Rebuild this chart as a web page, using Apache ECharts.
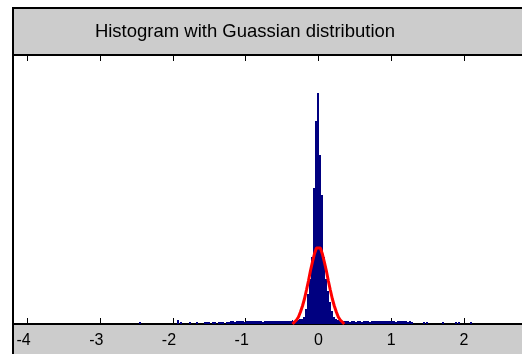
<!DOCTYPE html>
<html>
<head>
<meta charset="utf-8">
<script src="https://cdn.jsdelivr.net/npm/echarts@6/dist/echarts.min.js"></script>
<style>html,body{margin:0;padding:0;background:#fff;}#c{width:522px;height:354px;}</style>
</head>
<body>
<div id="c"></div>
<script>
// ---- data ----
const titleText = 'Histogram with Guassian distribution';
const tickValues = [-4, -3, -2, -1, 0, 1, 2];
const binWidth = 0.0274;
// central bins, bin index -8..8 (center = index * binWidth)
const peakStart = -8;
const peakCounts = [25, 35, 75, 150, 225, 335, 680, 1015, 1155, 845, 645, 335, 225, 165, 110, 65, 35];
// left tail, bin index -57..-9
const leftStart = -57;
const leftCounts = [10,10,10,0,10,10,0,10,10,10,0,10,10,
  15,15,10,15,15,15,15,10,15,15,15,15,
  15,15,15,15,10,15,15,15,15,15,15,15,15,15,15,
  15,15,15,15,20,15,20,20,25];
// right tail, bin index 9..47
const rightStart = 9;
const rightCounts = [25,20,15,15,15,15,
  15,10,15,15,10,15,15,10,15,15,15,10,15,15,15,15,15,15,15,15,15,15,15,15,10,15,15,15,15,15,10,15,10];
// isolated outlier bins [center, count]
const outlierX = [-2.45, -1.93, -1.89, -1.77, -1.67, 1.45, 1.49, 1.71, 1.89, 1.93, 2.10];
const outlierY = [10, 20, 10, 10, 10, 10, 10, 10, 10, 10, 10];
// fitted gaussian curve
const curveX = [-0.356,-0.329,-0.301,-0.274,-0.247,-0.219,-0.192,-0.164,-0.137,-0.110,-0.082,-0.055,-0.027,0,
  0.027,0.055,0.082,0.110,0.137,0.164,0.192,0.219,0.247,0.274,0.301,0.329,0.356];
const curveY = [0,10,20,35,60,90,125,170,215,265,310,350,380,390,
  380,350,310,265,215,170,125,90,60,35,20,10,0];

// ---- build series data: one outline polygon per contiguous run of bins ----
function runToBins(start, counts) {
  return counts.map((c, i) => [(start + i) * binWidth, c]);
}
const runs = [
  runToBins(leftStart, leftCounts),
  runToBins(peakStart, peakCounts),
  runToBins(rightStart, rightCounts)
];
const singles = outlierX.map((x, i) => [x, outlierY[i]]);
const curve = curveX.map((x, i) => [x, curveY[i]]);

const chart = echarts.init(document.getElementById('c'), null, {renderer: 'canvas'});
const gray = '#cccccc';
const blue = '#000080';

function histPolygon(api, binsList) {
  const pts = [];
  binsList.forEach(b => {
    const a = api.coord([b[0] - binWidth / 2, b[1]]);
    const z = api.coord([b[0] + binWidth / 2, b[1]]);
    pts.push([Math.round(a[0]), Math.round(a[1])], [Math.round(z[0]), Math.round(z[1])]);
  });
  const last = binsList[binsList.length - 1], first = binsList[0];
  const e = api.coord([last[0] + binWidth / 2, 0]);
  const s = api.coord([first[0] - binWidth / 2, 0]);
  pts.push([Math.round(e[0]), Math.round(e[1])], [Math.round(s[0]), Math.round(s[1])]);
  return {type: 'polygon', shape: {points: pts}, style: {fill: blue}};
}

chart.setOption({
  backgroundColor: '#ffffff',
  animation: false,
  grid: {left: 13, top: 55, width: 511, height: 269, containLabel: false},
  xAxis: [{
    type: 'value', min: -4.2, max: 2.8, position: 'bottom',
    axisLine: {show: true, onZero: false, lineStyle: {color: '#000', width: 2}},
    axisTick: {show: true, inside: true, length: 6, customValues: tickValues, lineStyle: {color: '#000', width: 1}},
    axisLabel: {
      show: true, customValues: tickValues, margin: 9, color: '#000', fontSize: 16,
      fontFamily: 'Liberation Sans, Arial, sans-serif',
      formatter: v => v < 0 ? (v + '{p| }') : String(v),
      rich: {p: {width: 8, fontSize: 16}}
    },
    splitLine: {show: false}
  }, {
    type: 'value', min: -4.2, max: 2.8, position: 'top',
    axisLine: {show: true, onZero: false, lineStyle: {color: '#000', width: 2}},
    axisTick: {show: true, inside: true, length: 6, customValues: tickValues, lineStyle: {color: '#000', width: 1}},
    axisLabel: {show: false},
    splitLine: {show: false}
  }],
  yAxis: {type: 'value', min: 0, max: 1345, show: false, splitLine: {show: false}},
  graphic: [
    {type: 'rect', z: -10, shape: {x: 13, y: 9, width: 509, height: 45}, style: {fill: gray}},
    {type: 'rect', z: -10, shape: {x: 13, y: 325, width: 509, height: 29}, style: {fill: gray}},
    {type: 'rect', z: 100, shape: {x: 12, y: 7, width: 510, height: 2}, style: {fill: '#000'}},
    {type: 'rect', z: 100, shape: {x: 12, y: 7, width: 2, height: 347}, style: {fill: '#000'}},
    {type: 'text', z: 100, x: 245, y: 32, style: {text: titleText, fill: '#000', font: '18.5px "Liberation Sans", Arial, sans-serif', align: 'center', verticalAlign: 'middle'}}
  ],
  series: [{
    // contiguous runs drawn as step outlines
    type: 'custom',
    xAxisIndex: 0,
    data: runs.map((r, i) => [i]),
    clip: true,
    renderItem: function (params, api) {
      return histPolygon(api, runs[params.dataIndex].filter(b => true));
    },
    z: 2
  }, {
    type: 'custom',
    xAxisIndex: 0,
    data: singles,
    clip: true,
    renderItem: function (params, api) {
      const c = api.value(0), n = api.value(1);
      const p0 = api.coord([c - binWidth / 2, n]);
      const p1 = api.coord([c + binWidth / 2, 0]);
      const x0 = Math.round(p0[0]);
      const x1 = Math.max(Math.round(p1[0]), x0 + 1);
      return {type: 'rect', shape: {x: x0, y: Math.round(p0[1]), width: x1 - x0, height: Math.round(p1[1]) - Math.round(p0[1])},
        style: {fill: blue}};
    },
    z: 2
  }, {
    type: 'line',
    xAxisIndex: 0,
    data: curve,
    symbol: 'none',
    smooth: false,
    lineStyle: {color: '#ff0000', width: 3},
    z: 3
  }]
});
</script>
</body>
</html>
